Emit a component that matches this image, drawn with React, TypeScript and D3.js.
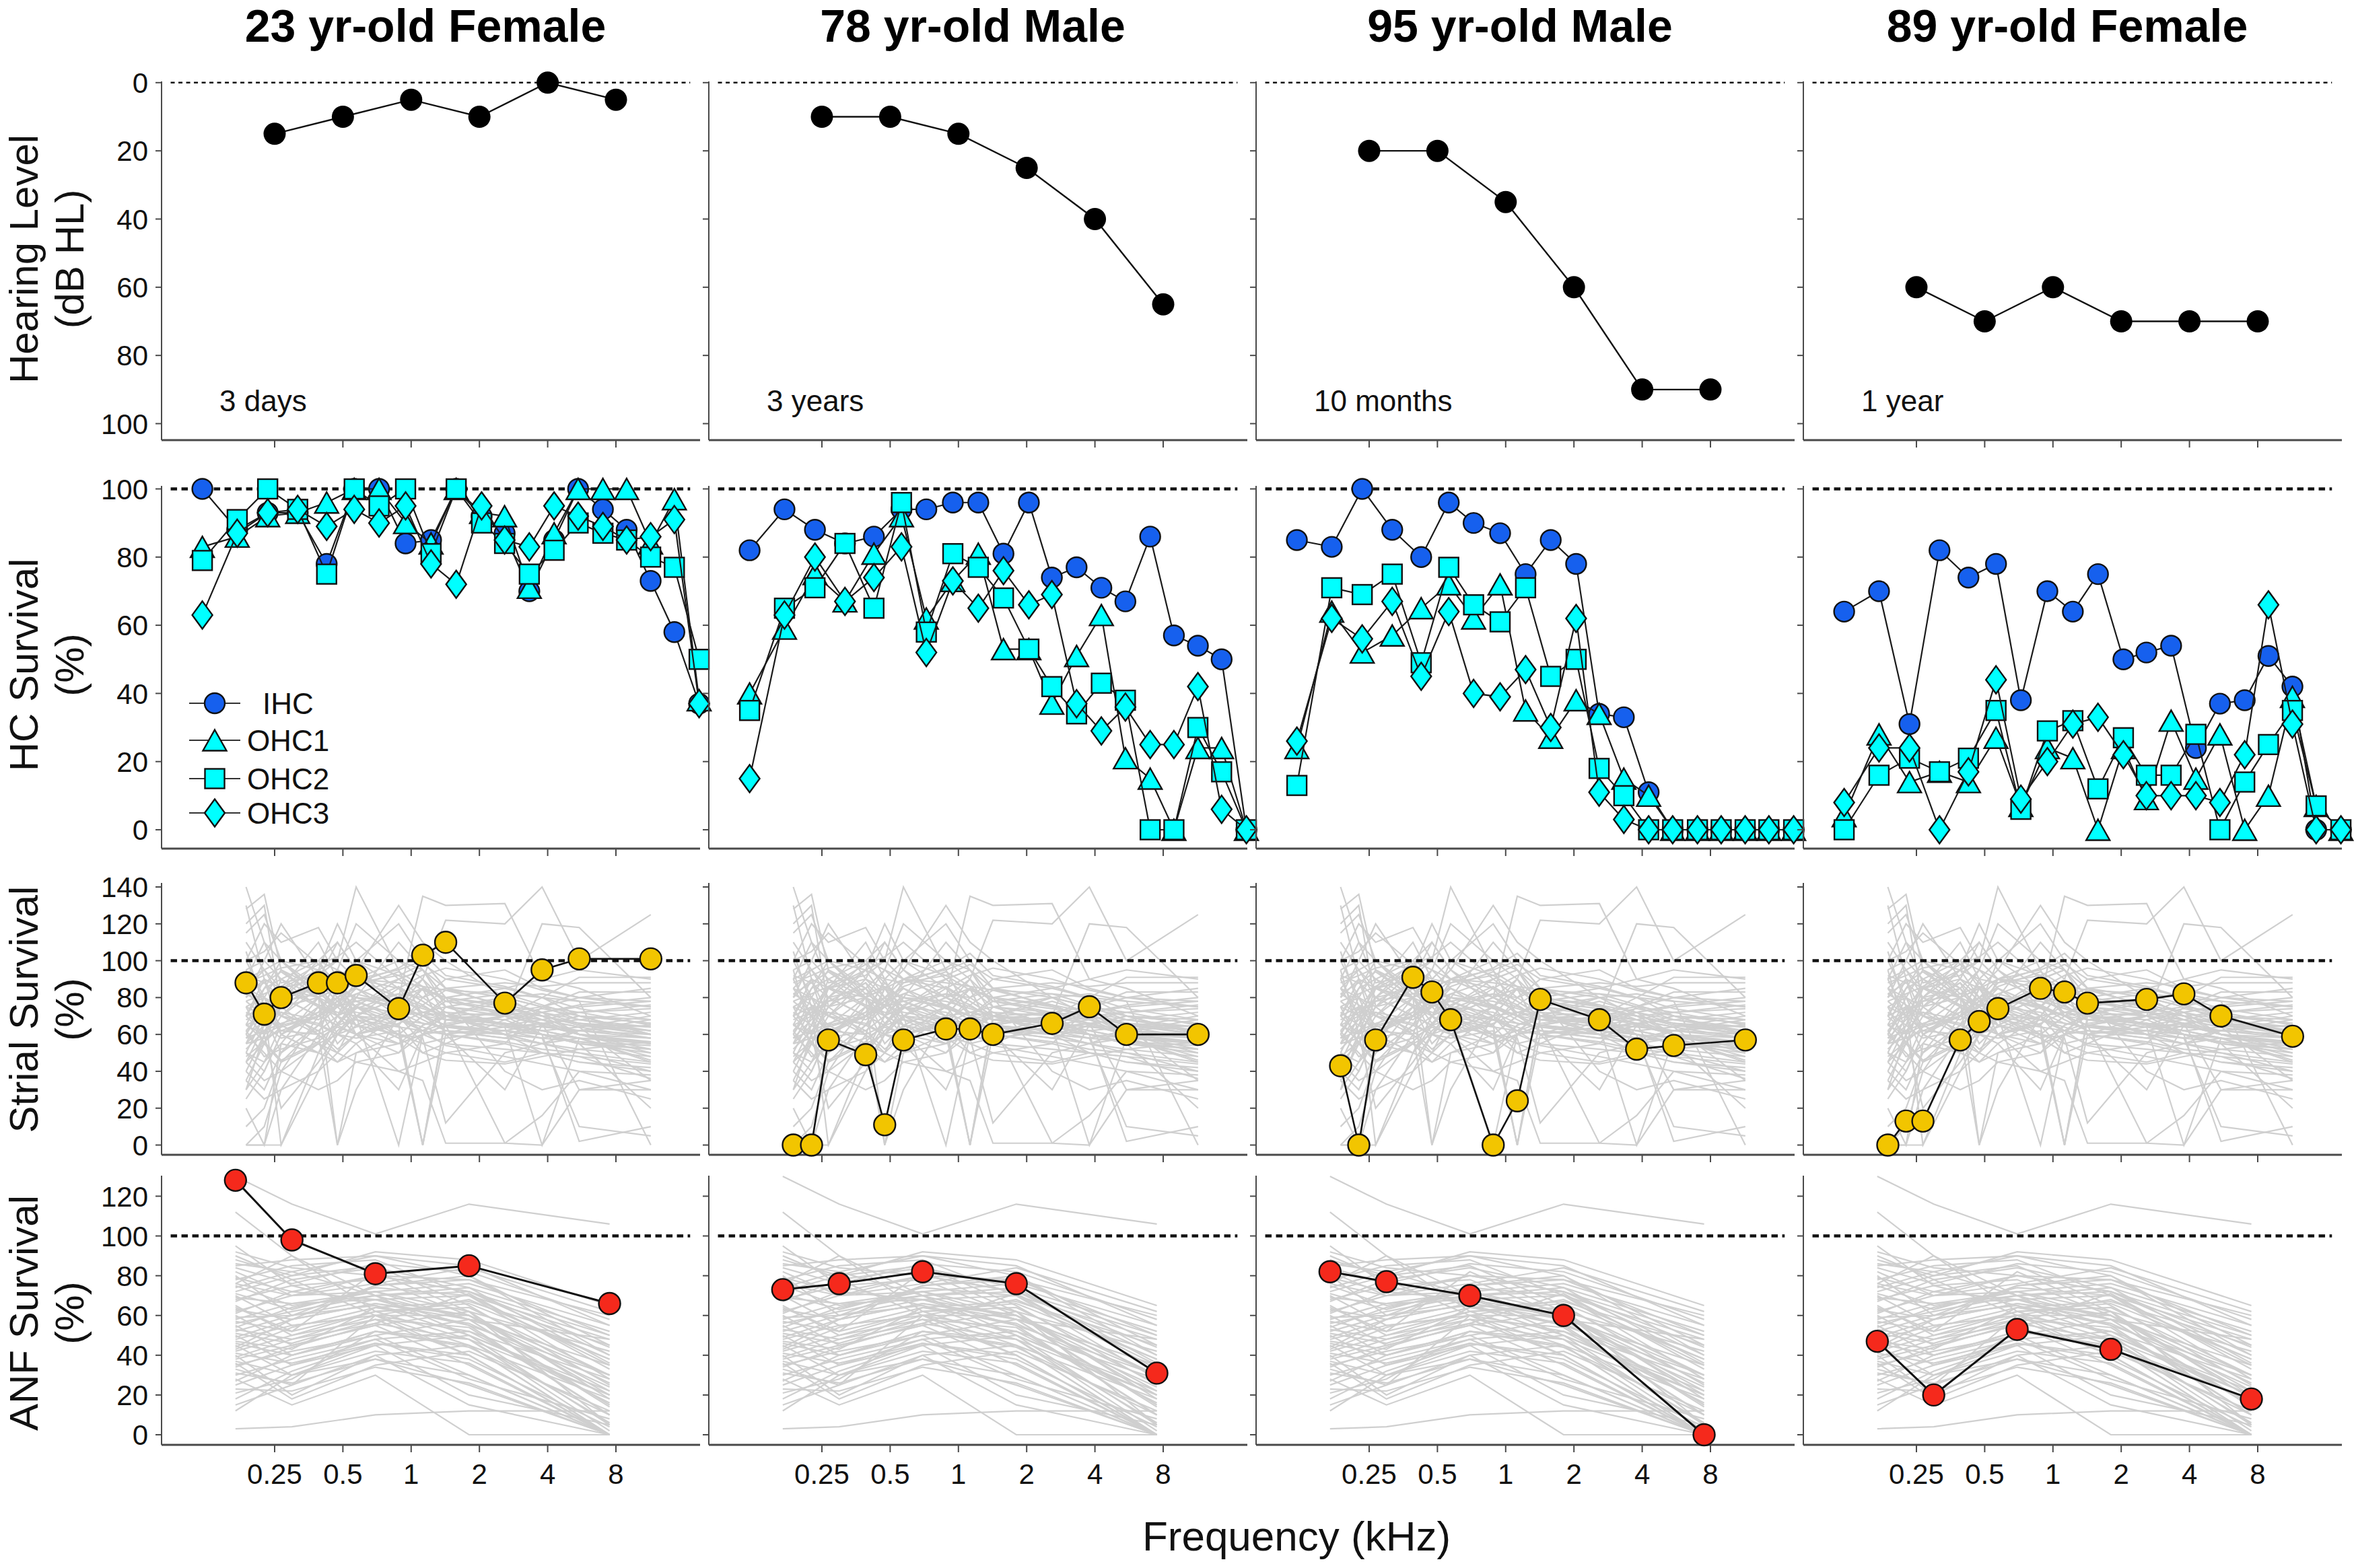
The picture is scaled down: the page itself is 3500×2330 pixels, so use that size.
import React from "react";
import * as d3 from "d3";

const FONT = "'Liberation Sans', Arial, Helvetica, sans-serif";

// ---------- Titles / annotations ----------
const TITLES = ["23 yr-old Female", "78 yr-old Male", "95 yr-old Male", "89 yr-old Female"];
const DURATIONS = ["3 days", "3 years", "10 months", "1 year"];

// ---------- Axis ticks ----------
const X_TICKS = [0.25, 0.5, 1, 2, 4, 8];
const X_TICK_LABELS = ["0.25", "0.5", "1", "2", "4", "8"];
const HL_TICKS = [0, 20, 40, 60, 80, 100];
const HC_TICKS = [0, 20, 40, 60, 80, 100];
const STRIAL_TICKS = [0, 20, 40, 60, 80, 100, 120, 140];
const ANF_TICKS = [0, 20, 40, 60, 80, 100, 120];

// ---------- Audiograms (dB HL) ----------
const HL_FREQ = [0.25, 0.5, 1, 2, 4, 8];
const HL_23F = [15, 10, 5, 10, 0, 5];
const HL_78M = [10, 10, 15, 25, 40, 65];
const HL_95M = [20, 20, 35, 60, 90, 90];
const HL_89F = [60, 70, 60, 70, 70, 70];

// ---------- Hair cell survival (%) ----------
const HC_FREQ = [0.12, 0.171, 0.233, 0.316, 0.424, 0.561, 0.722, 0.945, 1.224, 1.58, 2.045, 2.583, 3.32, 4.27, 5.45, 7.01, 8.92, 11.38, 14.48, 18.62];

const IHC_23F = [100, 88, 93, 93, 78, 100, 100, 84, 85, 100, 92, 87, 70, 85, 100, 94, 88, 73, 58, 37];
const OHC1_23F = [83, 86, 92, 93, 96, 100, 100, 90, 84, 100, 93, 92, 71, 87, 100, 100, 100, 84, 97, 38];
const OHC2_23F = [79, 91, 100, 94, 75, 100, 95, 100, 81, 100, 90, 84, 75, 82, 90, 87, 85, 80, 77, 50];
const OHC3_23F = [63, 87, 93, 94, 89, 94, 90, 95, 78, 72, 95, 85, 83, 95, 92, 89, 85, 86, 91, 37];

const IHC_78M = [82, 94, 88, 84, 86, 94, 94, 96, 96, 81, 96, 74, 77, 71, 67, 86, 57, 54, 50, 0];
const OHC1_78M = [40, 59, 75, 67, 81, 92, 62, 73, 81, 53, 53, 37, 51, 63, 21, 15, 0, 24, 24, 0];
const OHC2_78M = [35, 65, 71, 84, 65, 96, 58, 81, 77, 68, 53, 42, 34, 43, 38, 0, 0, 30, 17, 0];
const OHC3_78M = [15, 63, 80, 67, 74, 83, 52, 73, 65, 76, 66, 69, 37, 29, 36, 25, 25, 42, 6, 0];

const IHC_95M = [85, 83, 100, 88, 80, 96, 90, 87, 75, 85, 78, 34, 33, 11, 0, 0, 0, 0, 0, 0];
const OHC1_95M = [24, 64, 52, 57, 65, 72, 62, 72, 35, 27, 38, 34, 15, 10, 0, 0, 0, 0, 0, 0];
const OHC2_95M = [13, 71, 69, 75, 49, 77, 66, 61, 71, 45, 50, 18, 10, 0, 0, 0, 0, 0, 0, 0];
const OHC3_95M = [26, 62, 56, 67, 45, 64, 40, 39, 47, 30, 62, 11, 3, 0, 0, 0, 0, 0, 0, 0];

const IHC_89F = [64, 70, 31, 82, 74, 78, 38, 70, 64, 75, 50, 52, 54, 24, 37, 38, 51, 42, 0, 0];
const OHC1_89F = [4, 28, 14, 17, 14, 27, 7, 24, 21, 0, 24, 9, 32, 15, 28, 0, 10, 39, 7, 0];
const OHC2_89F = [0, 16, 21, 17, 21, 35, 6, 29, 32, 12, 27, 16, 16, 28, 0, 14, 25, 35, 7, 0];
const OHC3_89F = [8, 24, 24, 0, 17, 44, 9, 20, 31, 33, 22, 10, 10, 10, 8, 22, 66, 31, 0, 0];

// ---------- Strial survival (%) ----------
const STRIAL_FREQ = [0.187, 0.225, 0.267, 0.39, 0.473, 0.572, 0.881, 1.125, 1.42, 2.59, 3.78, 5.51, 11.4];
const STRIAL_23F = [88, 71, 80, 88, 88, 92, 74, 103, 110, 77, 95, 101, 101];
const STRIAL_78M = [0, 0, 57, 49, 11, 57, 63, 63, 60, 66, 75, 60, 60];
const STRIAL_95M = [43, 0, 57, 91, 83, 68, 0, 24, 79, 68, 52, 54, 57];
const STRIAL_89F = [0, 13, 13, 57, 67, 74, 85, 83, 77, 79, 82, 70, 59];

const STRIAL_NORMS = [
  [128, 136, 95, 80, 70, 90, 85, 78, 70, 65, 72, 60, 55],
  [140, 110, 88, 92, 100, 140, 95, 70, 62, 58, 65, 70, 60],
  [120, 130, 75, 60, 85, 95, 130, 110, 100, 80, 75, 68, 62],
  [100, 120, 110, 118, 100, 90, 80, 135, 130, 131, 90, 85, 70],
  [90, 95, 100, 85, 70, 60, 75, 90, 122, 120, 140, 100, 125],
  [85, 70, 80, 95, 80, 75, 90, 95, 80, 70, 120, 118, 80],
  [75, 80, 70, 65, 60, 55, 70, 85, 75, 65, 60, 55, 50],
  [70, 85, 90, 100, 110, 95, 80, 75, 70, 60, 55, 58, 45],
  [65, 60, 75, 80, 85, 90, 95, 100, 85, 75, 70, 65, 60],
  [60, 75, 65, 70, 90, 100, 85, 70, 65, 60, 65, 70, 68],
  [55, 65, 80, 85, 70, 60, 50, 65, 70, 68, 60, 55, 52],
  [50, 40, 60, 75, 80, 65, 55, 60, 75, 80, 70, 60, 58],
  [45, 55, 70, 60, 50, 70, 80, 85, 60, 55, 75, 80, 85],
  [40, 30, 50, 65, 75, 85, 70, 55, 50, 45, 50, 45, 40],
  [0, 10, 40, 70, 80, 90, 100, 95, 80, 75, 70, 65, 62],
  [0, 0, 30, 60, 0, 50, 60, 70, 72, 70, 65, 60, 55],
  [20, 0, 55, 80, 85, 70, 0, 60, 75, 65, 62, 58, 48],
  [30, 60, 20, 45, 60, 75, 60, 0, 70, 80, 75, 72, 65],
  [95, 100, 90, 80, 0, 30, 70, 85, 60, 30, 65, 60, 50],
  [80, 90, 85, 75, 70, 65, 60, 58, 12, 50, 55, 50, 45],
  [110, 95, 85, 90, 85, 80, 75, 70, 65, 1, 0, 30, 35],
  [70, 60, 65, 55, 50, 45, 40, 35, 1, 1, 16, 40, 30],
  [60, 50, 40, 30, 35, 45, 50, 60, 65, 70, 60, 2, 10],
  [85, 80, 75, 95, 90, 88, 92, 98, 90, 85, 80, 91, 91],
  [75, 70, 85, 80, 75, 78, 82, 80, 85, 88, 86, 88, 88],
  [65, 70, 72, 68, 75, 80, 78, 74, 70, 72, 75, 83, 83],
  [55, 58, 62, 60, 65, 68, 64, 62, 60, 64, 66, 30, 30],
  [100, 105, 115, 98, 102, 110, 90, 95, 85, 80, 82, 78, 0],
  [50, 45, 55, 50, 62, 70, 60, 55, 58, 62, 60, 55, 20],
  [45, 35, 40, 55, 45, 50, 55, 60, 62, 60, 58, 10, 5],
  [35, 25, 30, 40, 50, 60, 40, 45, 50, 55, 50, 48, 44],
  [88, 92, 96, 100, 95, 90, 88, 86, 84, 82, 80, 78, 75],
  [78, 82, 86, 76, 72, 70, 68, 66, 64, 62, 58, 56, 54],
  [68, 72, 78, 82, 86, 80, 74, 70, 68, 66, 64, 62, 60],
  [92, 88, 80, 70, 65, 60, 55, 65, 70, 60, 55, 52, 48],
  [25, 40, 60, 70, 65, 75, 68, 62, 70, 66, 62, 64, 58],
  [10, 20, 45, 55, 60, 58, 62, 0, 68, 72, 70, 66, 62],
  [72, 65, 58, 62, 70, 75, 72, 66, 64, 60, 58, 62, 65],
  [82, 76, 70, 66, 60, 64, 70, 72, 75, 72, 68, 64, 70],
  [58, 62, 66, 72, 78, 82, 76, 70, 65, 62, 66, 68, 72],
  [105, 75, 60, 50, 45, 55, 30, 60, 65, 70, 68, 64, 35],
  [62, 48, 52, 58, 64, 60, 66, 72, 68, 64, 0, 58, 55],
  [90, 70, 50, 75, 80, 60, 65, 50, 55, 68, 72, 75, 78],
  [48, 56, 64, 70, 76, 72, 68, 64, 60, 56, 52, 50, 40],
  [95, 60, 85, 110, 90, 70, 65, 80, 90, 95, 85, 80, 75],
  [130, 90, 70, 85, 95, 120, 100, 90, 78, 74, 70, 66, 64],
  [80, 100, 120, 90, 80, 85, 75, 70, 80, 85, 90, 95, 90],
  [70, 90, 60, 50, 65, 80, 110, 95, 75, 70, 66, 60, 56],
  [60, 80, 95, 85, 75, 65, 60, 70, 78, 82, 76, 70, 66],
  [50, 70, 85, 95, 100, 90, 80, 72, 70, 68, 72, 76, 80],
  [40, 60, 75, 88, 70, 82, 90, 80, 72, 60, 50, 45, 42],
  [85, 95, 80, 70, 75, 100, 120, 100, 85, 75, 70, 72, 74],
  [65, 85, 100, 80, 60, 70, 85, 92, 96, 90, 84, 80, 78],
  [55, 75, 70, 90, 110, 95, 75, 60, 55, 52, 50, 48, 36],
  [75, 55, 45, 65, 85, 75, 65, 0, 60, 70, 80, 70, 60],
  [45, 65, 90, 75, 55, 65, 75, 85, 80, 40, 30, 35, 25],
  [100, 80, 60, 72, 88, 78, 68, 62, 66, 70, 74, 70, 66],
  [35, 55, 80, 100, 85, 70, 58, 50, 46, 44, 48, 52, 56],
  [90, 110, 100, 95, 120, 100, 92, 84, 80, 76, 72, 68, 64],
  [115, 125, 100, 82, 76, 88, 96, 104, 92, 86, 80, 74, 68],
  [0, 0, 0, 50, 70, 80, 75, 70, 65, 62, 60, 58, 56],
  [70, 75, 0, 40, 60, 70, 80, 90, 70, 65, 68, 72, 76],
  [58, 68, 78, 88, 78, 68, 58, 62, 70, 78, 72, 66, 60],
  [82, 88, 94, 80, 66, 74, 82, 76, 68, 64, 60, 56, 52],
  [66, 56, 46, 56, 66, 76, 86, 78, 70, 66, 62, 58, 46],
  [52, 62, 72, 62, 52, 60, 68, 76, 84, 76, 68, 60, 52],
  [62, 74, 86, 98, 88, 78, 70, 62, 54, 48, 44, 40, 38],
  [78, 70, 62, 70, 78, 86, 94, 86, 78, 72, 66, 62, 58],
  [30, 45, 65, 80, 95, 85, 75, 68, 62, 58, 55, 62, 68],
];

// ---------- ANF survival (%) ----------
const ANF_FREQ = [0.168, 0.298, 0.695, 1.8, 7.5];
const ANF_23F = [128, 98, 81, 85, 66];
const ANF_78M = [73, 76, 82, 76, 31];
const ANF_95M = [82, 77, 70, 60, 0];
const ANF_89F = [47, 20, 53, 43, 18];

const ANF_NORMS = [
  [130, 116, 101, 116, 106],
  [112, 90, 70, 50, 20],
  [95, 75, 65, 55, 30],
  [88, 80, 92, 88, 65],
  [85, 88, 90, 85, 55],
  [82, 70, 80, 78, 50],
  [80, 60, 75, 80, 45],
  [78, 85, 88, 70, 35],
  [75, 65, 70, 72, 40],
  [72, 80, 85, 65, 25],
  [70, 55, 60, 68, 38],
  [68, 75, 78, 60, 20],
  [65, 50, 62, 64, 30],
  [62, 70, 72, 58, 15],
  [60, 45, 55, 62, 42],
  [58, 66, 68, 55, 10],
  [55, 40, 50, 58, 35],
  [52, 60, 65, 50, 5],
  [50, 35, 48, 52, 28],
  [48, 55, 60, 45, 0],
  [45, 30, 45, 50, 22],
  [42, 50, 58, 40, 0],
  [40, 20, 40, 45, 18],
  [38, 45, 55, 35, 0],
  [36, 18, 35, 42, 12],
  [35, 42, 50, 30, 0],
  [30, 38, 48, 28, 8],
  [28, 15, 30, 0, 0],
  [25, 35, 45, 20, 5],
  [15, 25, 40, 15, 0],
  [12, 30, 38, 25, 0],
  [3, 4, 10, 12, 12],
  [90, 78, 60, 40, 0],
  [86, 82, 70, 58, 48],
  [44, 58, 75, 78, 60],
  [56, 62, 70, 74, 52],
  [64, 52, 82, 62, 5],
  [76, 90, 62, 48, 2],
  [47, 43, 64, 67, 45],
  [53, 48, 56, 71, 33],
  [33, 25, 60, 60, 26],
  [21, 28, 52, 45, 0],
  [92, 84, 80, 72, 50],
  [84, 76, 86, 82, 58],
  [79, 72, 68, 60, 22],
  [74, 82, 90, 80, 40],
  [71, 63, 74, 70, 28],
  [67, 78, 84, 74, 36],
  [63, 58, 66, 58, 14],
  [61, 72, 80, 72, 44],
  [57, 52, 62, 66, 38],
  [54, 64, 72, 62, 18],
  [51, 46, 58, 54, 10],
  [49, 58, 66, 60, 30],
  [46, 40, 52, 48, 6],
  [43, 54, 64, 56, 24],
  [41, 36, 46, 40, 0],
  [39, 48, 60, 52, 16],
  [37, 30, 42, 36, 0],
  [34, 44, 56, 48, 20],
  [31, 26, 38, 30, 0],
  [27, 40, 52, 44, 10],
  [23, 22, 34, 26, 0],
  [18, 32, 46, 38, 4],
  [76, 70, 76, 84, 62],
  [69, 66, 72, 76, 55],
  [59, 60, 68, 70, 48],
];

// ---------- grouping ----------
const HL_DATA = [HL_23F, HL_78M, HL_95M, HL_89F];
const IHC_DATA = [IHC_23F, IHC_78M, IHC_95M, IHC_89F];
const OHC1_DATA = [OHC1_23F, OHC1_78M, OHC1_95M, OHC1_89F];
const OHC2_DATA = [OHC2_23F, OHC2_78M, OHC2_95M, OHC2_89F];
const OHC3_DATA = [OHC3_23F, OHC3_78M, OHC3_95M, OHC3_89F];
const STRIAL_DATA = [STRIAL_23F, STRIAL_78M, STRIAL_95M, STRIAL_89F];
const ANF_DATA = [ANF_23F, ANF_78M, ANF_95M, ANF_89F];

const HC_SERIES = [
  { name: "IHC", shape: "circle", fill: "#1660ee", data: IHC_DATA },
  { name: "OHC1", shape: "triangle", fill: "#00ffff", data: OHC1_DATA },
  { name: "OHC2", shape: "square", fill: "#00ffff", data: OHC2_DATA },
  { name: "OHC3", shape: "diamond", fill: "#00ffff", data: OHC3_DATA },
];

// ---------- layout ----------
const W = 3500;
const H = 2330;
const PANEL_LEFT0 = 240;
const PANEL_PITCH = 813;
const PANEL_W = 800;
const AXIS_COLOR = "#4a4a4a";

function Marker({ shape, x, y, fill }: { shape: string; x: number; y: number; fill: string }) {
  const sw = 2.4;
  if (shape === "circle") return <circle cx={x} cy={y} r={15} fill={fill} stroke="#111" strokeWidth={sw} />;
  if (shape === "square") return <rect x={x - 14.5} y={y - 14.5} width={29} height={29} fill={fill} stroke="#111" strokeWidth={sw} />;
  if (shape === "triangle") {
    const w = 35, h = 31;
    return <path d={`M${x},${y - h / 2}L${x + w / 2},${y + h / 2}L${x - w / 2},${y + h / 2}Z`} fill={fill} stroke="#111" strokeWidth={sw} strokeLinejoin="miter" />;
  }
  const w = 30, h = 41;
  return <path d={`M${x},${y - h / 2}L${x + w / 2},${y}L${x},${y + h / 2}L${x - w / 2},${y}Z`} fill={fill} stroke="#111" strokeWidth={sw} />;
}

export default function App() {
  const xScales = [0, 1, 2, 3].map((i) =>
    d3.scaleLog().domain([0.0793, 18.8]).range([PANEL_LEFT0 + PANEL_PITCH * i, PANEL_LEFT0 + PANEL_PITCH * i + PANEL_W])
  );

  const rows = [
    { key: "hl", y: d3.scaleLinear().domain([0, 100]).range([122.8, 629.5]), top: 121, bottom: 654, ticks: HL_TICKS, ref: 0, label: ["Hearing Level", "(dB HL)"], labelY: 385, thin: true },
    { key: "hc", y: d3.scaleLinear().domain([0, 100]).range([1233, 726.5]), top: 722, bottom: 1261, ticks: HC_TICKS, ref: 100, label: ["HC Survival", "(%)"], labelY: 988, thin: false },
    { key: "st", y: d3.scaleLinear().domain([0, 140]).range([1701.5, 1318]), top: 1312, bottom: 1716, ticks: STRIAL_TICKS, ref: 100, label: ["Strial Survival", "(%)"], labelY: 1500, thin: false },
    { key: "anf", y: d3.scaleLinear().domain([0, 120]).range([2132, 1777.5]), top: 1747, bottom: 2147, ticks: ANF_TICKS, ref: 100, label: ["ANF Survival", "(%)"], labelY: 1951, thin: false },
  ];

  const lineGen = (xs: any, ys: any, freqs: number[]) =>
    d3.line<number>().x((_, k) => xs(freqs[k])).y((v) => ys(v));

  const panels: any[] = [];

  for (let c = 0; c < 4; c++) {
    const xs = xScales[c];
    const left = xs.range()[0];
    const right = xs.range()[1];

    rows.forEach((row, r) => {
      const ys = row.y;
      const g: any[] = [];

      if (row.key === "st") {
        const lg = lineGen(xs, ys, STRIAL_FREQ);
        STRIAL_NORMS.forEach((arr, k) =>
          g.push(<path key={`sn${k}`} d={lg(arr) || ""} fill="none" stroke="#cfcfcf" strokeWidth={2.2} />)
        );
      }
      if (row.key === "anf") {
        const lg = lineGen(xs, ys, ANF_FREQ);
        ANF_NORMS.forEach((arr, k) =>
          g.push(<path key={`an${k}`} d={lg(arr) || ""} fill="none" stroke="#cfcfcf" strokeWidth={2.2} />)
        );
      }

      g.push(
        <line
          key="ref"
          x1={xs(0.087)}
          x2={xs(17)}
          y1={ys(row.ref)}
          y2={ys(row.ref)}
          stroke="#111"
          strokeWidth={row.thin ? 2.6 : 4.5}
          strokeDasharray={row.thin ? "6 5.5" : "9.5 6.5"}
        />
      );

      g.push(<line key="ly" x1={left} x2={left} y1={row.top} y2={row.bottom} stroke={AXIS_COLOR} strokeWidth={2} />);
      g.push(<line key="lx" x1={left} x2={right} y1={row.bottom} y2={row.bottom} stroke={AXIS_COLOR} strokeWidth={3.2} />);
      row.ticks.forEach((t) => {
        g.push(<line key={`yt${t}`} x1={left - 9} x2={left} y1={ys(t)} y2={ys(t)} stroke={AXIS_COLOR} strokeWidth={2} />);
        if (c === 0)
          g.push(
            <text key={`ytl${t}`} x={left - 20} y={ys(t)} dy="0.36em" textAnchor="end" fontSize={42} fontFamily={FONT} fill="#111">
              {t}
            </text>
          );
      });
      X_TICKS.forEach((t, k) => {
        g.push(<line key={`xt${t}`} x1={xs(t)} x2={xs(t)} y1={row.bottom} y2={row.bottom + 11} stroke={AXIS_COLOR} strokeWidth={2} />);
        if (r === 3)
          g.push(
            <text key={`xtl${t}`} x={xs(t)} y={2205} textAnchor="middle" fontSize={42} fontFamily={FONT} fill="#111">
              {X_TICK_LABELS[k]}
            </text>
          );
      });

      if (row.key === "hl") {
        const lg = lineGen(xs, ys, HL_FREQ);
        g.push(<path key="hlline" d={lg(HL_DATA[c]) || ""} fill="none" stroke="#111" strokeWidth={2.4} />);
        HL_DATA[c].forEach((v, k) =>
          g.push(<circle key={`hlp${k}`} cx={xs(HL_FREQ[k])} cy={ys(v)} r={16.5} fill="#000" />)
        );
        g.push(
          <text key="dur" x={left + 86} y={611} fontSize={44} fontFamily={FONT} fill="#111">
            {DURATIONS[c]}
          </text>
        );
      }
      if (row.key === "hc") {
        const lg = lineGen(xs, ys, HC_FREQ);
        HC_SERIES.forEach((s) => {
          const arr = s.data[c];
          g.push(<path key={`hcl${s.name}`} d={lg(arr) || ""} fill="none" stroke="#1a1a1a" strokeWidth={2.2} />);
          arr.forEach((v, k) =>
            g.push(<Marker key={`hcm${s.name}${k}`} shape={s.shape} x={xs(HC_FREQ[k])} y={ys(v)} fill={s.fill} />)
          );
        });
        if (c === 0) {
          const legY = [1045, 1100, 1157, 1208];
          HC_SERIES.forEach((s, k) => {
            g.push(<line key={`lgl${k}`} x1={281} x2={357} y1={legY[k]} y2={legY[k]} stroke="#333" strokeWidth={2.2} />);
            g.push(<Marker key={`lgm${k}`} shape={s.shape} x={319} y={legY[k]} fill={s.fill} />);
            g.push(
              <text key={`lgt${k}`} x={428} y={legY[k]} dy="0.36em" textAnchor="middle" fontSize={44} fontFamily={FONT} fill="#111">
                {s.name}
              </text>
            );
          });
        }
      }
      if (row.key === "st") {
        const lg = lineGen(xs, ys, STRIAL_FREQ);
        g.push(<path key="stline" d={lg(STRIAL_DATA[c]) || ""} fill="none" stroke="#111" strokeWidth={2.6} />);
        STRIAL_DATA[c].forEach((v, k) =>
          g.push(<circle key={`stp${k}`} cx={xs(STRIAL_FREQ[k])} cy={ys(v)} r={16} fill="#f2c500" stroke="#111" strokeWidth={2.4} />)
        );
      }
      if (row.key === "anf") {
        const lg = lineGen(xs, ys, ANF_FREQ);
        g.push(<path key="anline" d={lg(ANF_DATA[c]) || ""} fill="none" stroke="#111" strokeWidth={3} />);
        ANF_DATA[c].forEach((v, k) =>
          g.push(<circle key={`anp${k}`} cx={xs(ANF_FREQ[k])} cy={ys(v)} r={16} fill="#f5291c" stroke="#111" strokeWidth={2.4} />)
        );
      }

      panels.push(<g key={`p${c}-${r}`}>{g}</g>);
    });

    panels.push(
      <text key={`title${c}`} x={(left + right) / 2 - 8} y={62} textAnchor="middle" fontSize={68} fontWeight="bold" fontFamily={FONT} fill="#000">
        {TITLES[c]}
      </text>
    );
  }

  const rowLabels = rows.map((row, r) => (
    <g key={`rl${r}`}>
      <text transform={`translate(56,${row.labelY}) rotate(-90)`} textAnchor="middle" fontSize={60} fontFamily={FONT} fill="#111">
        {row.label[0]}
      </text>
      <text transform={`translate(124,${row.labelY}) rotate(-90)`} textAnchor="middle" fontSize={60} fontFamily={FONT} fill="#111">
        {row.label[1]}
      </text>
    </g>
  ));

  return (
    <svg
      width={W}
      height={H}
      viewBox={`0 0 ${W} ${H}`}
      style={{ position: "absolute", left: 0, top: 0, background: "#fff", display: "block" }}
    >
      <rect x={0} y={0} width={W} height={H} fill="#fff" />
      {panels}
      {rowLabels}
      <text x={1926} y={2304} textAnchor="middle" fontSize={62} fontFamily={FONT} fill="#111">
        Frequency (kHz)
      </text>
    </svg>
  );
}
